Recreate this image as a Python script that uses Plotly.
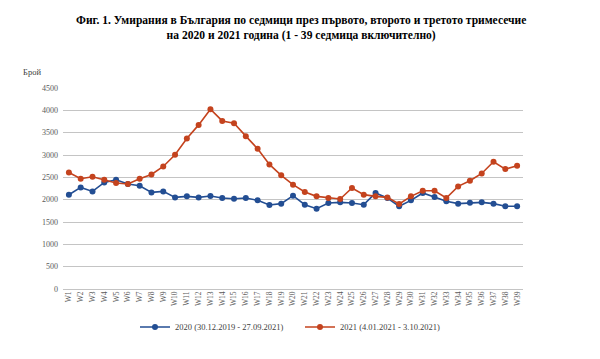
import plotly.graph_objects as go

weeks = [f"W{i}" for i in range(1, 40)]

deaths_2020 = [2110, 2275, 2185, 2386, 2446, 2350, 2312, 2163, 2185, 2051,
               2074, 2051, 2082, 2037, 2022, 2037, 1985, 1881, 1911, 2090,
               1888, 1799, 1926, 1940, 1926, 1888, 2150, 2037, 1851, 1985,
               2150, 2060, 1963, 1911, 1933, 1940, 1911, 1851, 1851]

deaths_2021 = [2610, 2469, 2514, 2446, 2372, 2350, 2469, 2565, 2743, 3004,
               3368, 3674, 4024, 3763, 3712, 3422, 3140, 2790, 2545, 2335,
               2172, 2074, 2037, 2015, 2261, 2112, 2074, 2051, 1903, 2074,
               2200, 2200, 2037, 2297, 2424, 2587, 2848, 2685, 2759]

y_ticks = [0, 500, 1000, 1500, 2000, 2500, 3000, 3500, 4000, 4500]

name_2020 = "2020 (30.12.2019 - 27.09.2021)"
name_2021 = "2021 (4.01.2021 - 3.10.2021)"
title_text = ("<b>Фиг. 1. Умирания в България по седмици през първото, второто и третото тримесечие</b><br>"
              "<b>на 2020 и 2021 година (1 - 39 седмица включително)</b>")

BLUE = "#234e93"
RED = "#c4431e"
FONT = "Liberation Serif"
OFF = 8  # page body margin offset
W, H = 600, 359
L, R, T, B = 63 - OFF, 77 + OFF, 88 - OFF, 70 + OFF
PW, PH = W - L - R, H - T - B


def px_x(px):
    return (px - OFF - L) / PW


def px_y(py):
    return (H - B - (py - OFF)) / PH


fig = go.Figure()
fig.add_trace(go.Scatter(x=weeks, y=deaths_2020, name=name_2020, mode="lines+markers",
                         line=dict(color=BLUE, width=1.6),
                         marker=dict(color=BLUE, size=6)))
fig.add_trace(go.Scatter(x=weeks, y=deaths_2021, name=name_2021, mode="lines+markers",
                         line=dict(color=RED, width=1.6),
                         marker=dict(color=RED, size=6)))

fig.update_layout(
    width=W, height=H,
    paper_bgcolor="white", plot_bgcolor="white",
    margin=dict(l=L, r=R, t=T, b=B, autoexpand=False),
    font=dict(family=FONT, color="#595959", size=8),
    showlegend=True,
    legend=dict(orientation="h", x=px_x(135), xanchor="left",
                y=1 - (327 - OFF) / H, yref="container", yanchor="middle",
                font=dict(family=FONT, size=8.5, color="#404040"),
                entrywidth=120, entrywidthmode="pixels", itemwidth=30,
                bgcolor="rgba(0,0,0,0)"),
    annotations=[
        dict(text=title_text, x=px_x(301), y=px_y(28), xref="paper", yref="paper",
             xanchor="center", yanchor="middle", showarrow=False,
             font=dict(family=FONT, size=11.55, color="black"), align="center"),
        dict(text="Брой", x=px_x(32), y=px_y(72), xref="paper", yref="paper",
             xanchor="center", yanchor="middle", showarrow=False,
             font=dict(family=FONT, size=8.5, color="#404040")),
    ],
)

fig.update_xaxes(type="category", range=[-0.5, 38.5], tickangle=-90,
                 showgrid=False, showline=False, zeroline=False, automargin=False,
                 tickfont=dict(family=FONT, size=7.5, color="#595959"),
                 ticks="", fixedrange=True)
fig.update_yaxes(range=[0, 4500], tickvals=y_ticks, showgrid=True, automargin=False,
                 gridcolor="#c4c4c4", gridwidth=1, zeroline=True,
                 zerolinecolor="#c4c4c4", zerolinewidth=1, showline=False,
                 tickfont=dict(family=FONT, size=8, color="#595959"),
                 ticks="", ticklabelstandoff=4)

fig.write_html("out.html")
